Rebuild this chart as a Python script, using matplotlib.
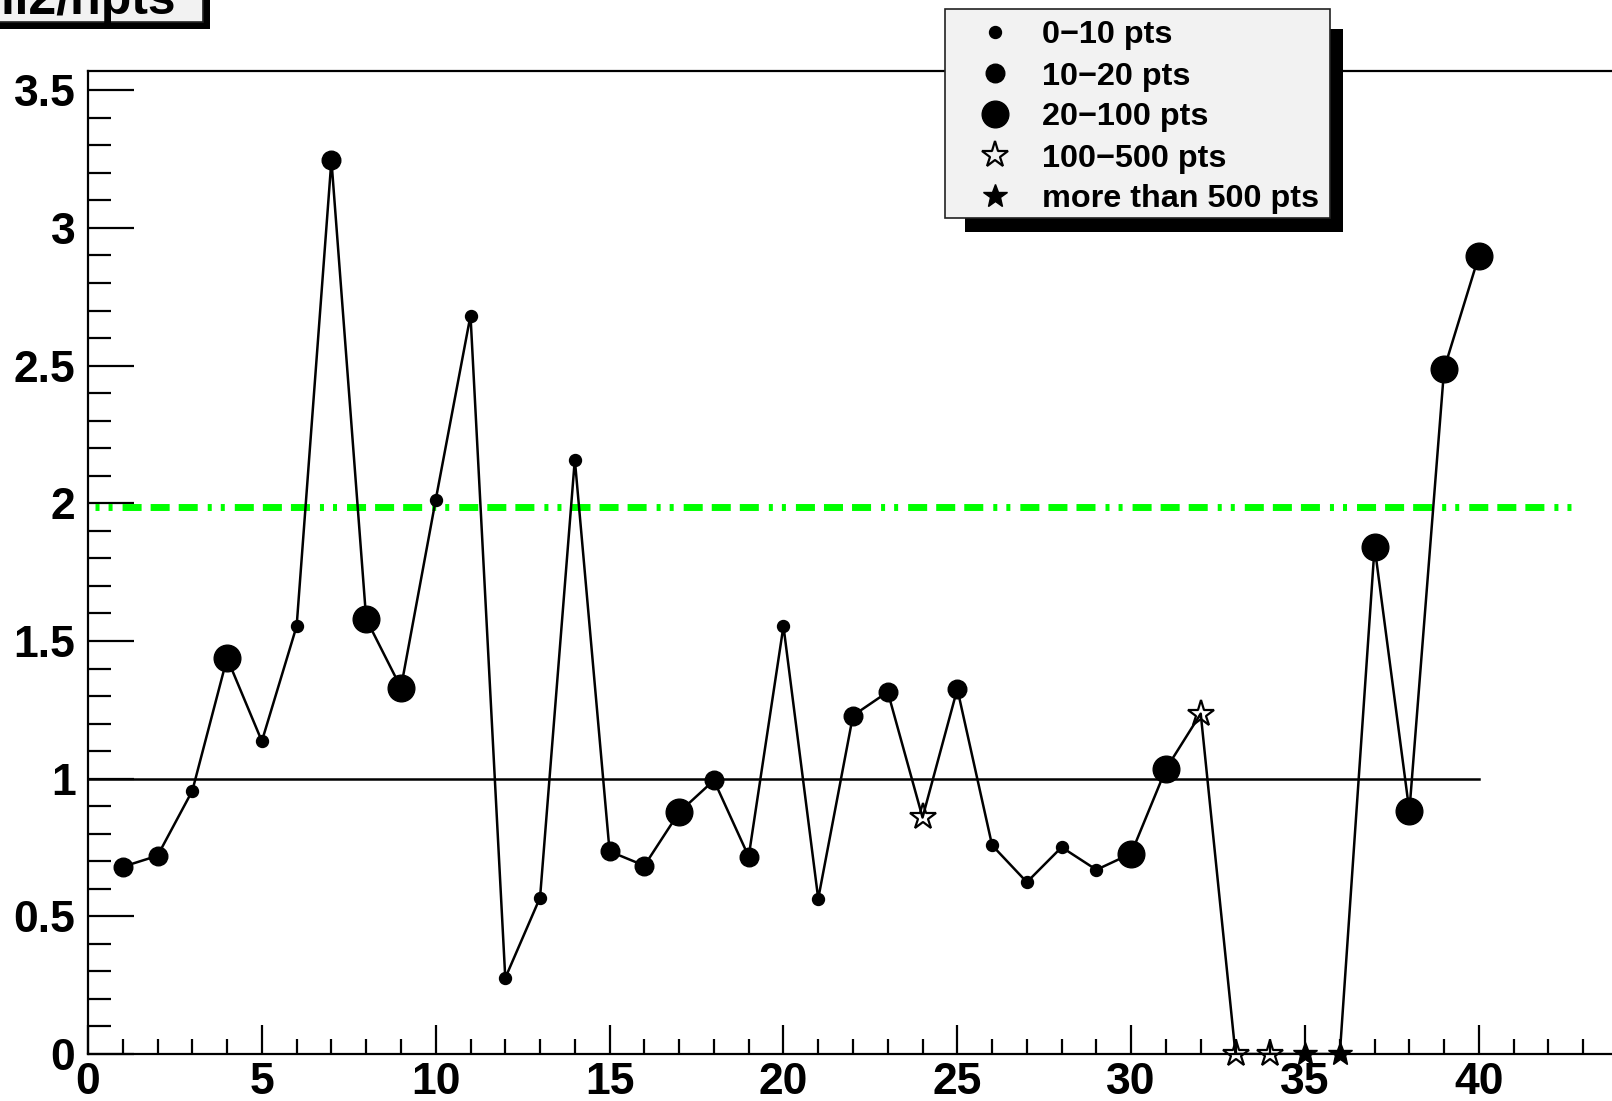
import numpy as np
import matplotlib
matplotlib.use('Agg')
import matplotlib.pyplot as plt
from matplotlib.patches import Rectangle
from matplotlib.ticker import MultipleLocator, FuncFormatter

plt.rcParams['font.family'] = ['Liberation Sans', 'DejaVu Sans']
plt.rcParams['font.weight'] = 'bold'
plt.rcParams['lines.scale_dashes'] = False

# run index, chi2/npts value and statistics class of each run
runs = np.arange(1, 41)
chi2_npts = [0.68, 0.72, 0.956, 1.438, 1.136, 1.554, 3.246, 1.58, 1.33, 2.013,
             2.682, 0.276, 0.568, 2.159, 0.736, 0.684, 0.878, 0.994, 0.717, 1.554,
             0.564, 1.229, 1.315, 0.859, 1.326, 0.758, 0.624, 0.751, 0.669, 0.728,
             1.035, 1.236, 0.0, 0.0, 0.0, 0.0, 1.842, 0.882, 2.488, 2.899]
npts_class = [1, 1, 0, 2, 0, 0, 1, 2, 2, 0,
              0, 0, 0, 0, 1, 1, 2, 1, 1, 0,
              0, 1, 1, 3, 1, 0, 0, 0, 0, 2,
              2, 3, 3, 3, 4, 4, 2, 2, 2, 2]
class_labels = ['0\u221210 pts', '10\u221220 pts', '20\u2212100 pts',
                '100\u2212500 pts', 'more than 500 pts']
reference_level = 1.0
cut_level = 1.985

# marker style for each statistics class
class_styles = [
    dict(marker='o', markersize=8.6, markerfacecolor='black', markeredgecolor='black'),
    dict(marker='o', markersize=13.4, markerfacecolor='black', markeredgecolor='black'),
    dict(marker='o', markersize=19.2, markerfacecolor='black', markeredgecolor='black'),
    dict(marker='*', markersize=20, markerfacecolor='none', markeredgecolor='black',
         markeredgewidth=1.6),
    dict(marker='*', markersize=18, markerfacecolor='black', markeredgecolor='black'),
]

# dash-dot-dot pattern of the cut line (points): two dots then three dashes
cut_dashes = [2.9, 6.5, 2.9, 7.2, 13.7, 6.5, 13.7, 6.5, 13.7, 7.2]

W, H = 1612, 1101
fig = plt.figure(figsize=(W / 100, H / 100), dpi=100)
ax = fig.add_axes([88 / W, 47 / H, 1530 / W, 983 / H])

x = np.asarray(runs)
y = np.asarray(chi2_npts)
cls = np.asarray(npts_class)

ax.plot([0, 40], [reference_level, reference_level], color='black', lw=1.8, zorder=2)
ax.plot([0.2, 42.7], [cut_level, cut_level], color='#00ff00', lw=5,
        linestyle=(0, cut_dashes), dash_capstyle='butt', zorder=2)
ax.plot(x, y, color='black', lw=1.8, zorder=3)
for k, style in enumerate(class_styles):
    m = cls == k
    if m.any():
        ax.plot(x[m], y[m], ls='none', clip_on=False, zorder=4, **style)

ax.set_xlim(0, 44)
ax.set_ylim(0, 3.57)
ax.spines['right'].set_visible(False)
for side in ['left', 'bottom', 'top']:
    ax.spines[side].set_linewidth(1.6)

ax.xaxis.set_major_locator(MultipleLocator(5))
ax.xaxis.set_minor_locator(MultipleLocator(1))
ax.yaxis.set_major_locator(MultipleLocator(0.5))
ax.yaxis.set_minor_locator(MultipleLocator(0.1))
fmt = FuncFormatter(lambda v, p: '%g' % round(v, 2))
ax.xaxis.set_major_formatter(fmt)
ax.yaxis.set_major_formatter(fmt)
ax.tick_params(axis='x', which='major', direction='in', length=21, width=1.6,
               labelsize=32, pad=6, top=False)
ax.tick_params(axis='x', which='minor', direction='in', length=10.5, width=1.6, top=False)
ax.tick_params(axis='y', which='major', direction='in', length=33, width=1.6,
               labelsize=32, pad=9, right=False)
ax.tick_params(axis='y', which='minor', direction='in', length=16.5, width=1.6, right=False)
for lab in ax.get_xticklabels() + ax.get_yticklabels():
    lab.set_fontweight('bold')

# overlay in pixel coordinates for the title pave and the legend
ov = fig.add_axes([0, 0, 1, 1], zorder=10)
ov.set_xlim(0, W)
ov.set_ylim(H, 0)
ov.axis('off')
ov.patch.set_alpha(0)

# title pave with shadow
ov.add_patch(Rectangle((-20, -60), 230, 89, facecolor='black', edgecolor='none'))
ov.add_patch(Rectangle((-20, -60), 223, 82, facecolor='#f2f2f2', edgecolor='#222222', lw=1.2))
ov.text(175, 14, 'chi2/npts', ha='right', va='baseline', fontsize=36, fontweight='bold')

# legend with shadow
ov.add_patch(Rectangle((965, 29), 378, 203, facecolor='black', edgecolor='none'))
ov.add_patch(Rectangle((945, 9), 385, 209, facecolor='#f2f2f2', edgecolor='#222222', lw=1.2))
row_y = [32, 73, 114, 155, 196]
for k, (style, label) in enumerate(zip(class_styles, class_labels)):
    ov.plot([995], [row_y[k]], ls='none', **style)
    ov.text(1042, row_y[k], label, ha='left', va='center_baseline', fontsize=23.3,
            fontweight='bold')

fig.savefig('out.png', dpi=100)
